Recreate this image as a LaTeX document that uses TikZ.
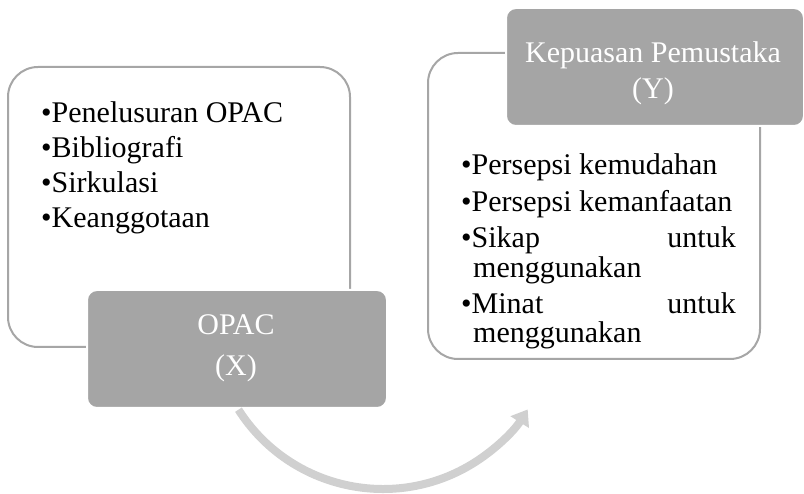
\documentclass[tikz,border=0pt]{standalone}
\usepackage{fontspec}
\setmainfont{Liberation Serif}
\usetikzlibrary{arrows.meta}
\definecolor{boxline}{HTML}{A6A6A6}
\definecolor{boxfill}{HTML}{A5A5A5}
\definecolor{arrowgray}{HTML}{D0D0D0}
\tikzset{
  whitebox/.style={draw=boxline, line width=2pt, fill=white, rounded corners=30pt, anchor=north west, inner sep=0pt},
  graybox/.style={draw=white, line width=2pt, fill=boxfill, rounded corners=10pt, anchor=north west, inner sep=0pt},
  txt/.style={font=\fontsize{30}{35}\selectfont, inner sep=0pt, text=black},
  wtxt/.style={font=\fontsize{30}{35}\selectfont, inner sep=0pt, text=white, anchor=base},
  flow/.style={draw=arrowgray, line width=8pt, -{Triangle[length=15pt,width=21pt]}}
}
\begin{document}
\begin{tikzpicture}[x=1pt,y=-1pt]
\useasboundingbox (0,0) rectangle (804,494);
% left group
\node[whitebox, minimum width=342pt, minimum height=280pt] (L) at (7,66) {};
\node[txt, anchor=base west] (l1) at (41,122.7) {•Penelusuran OPAC};
\node[txt, anchor=base west] (l2) at (41,158) {•Bibliografi};
\node[txt, anchor=base west] (l3) at (41,193) {•Sirkulasi};
\node[txt, anchor=base west] (l4) at (41,228) {•Keanggotaan};
\node[graybox, minimum width=300pt, minimum height=118pt] (X) at (86,289) {};
\node[wtxt] (x1) at (236,335) {OPAC};
\node[wtxt] (x2) at (236,376) {(X)};
% right group
\node[whitebox, minimum width=332pt, minimum height=306pt] (R) at (427,52) {};
\node[graybox, minimum width=298pt, minimum height=118pt] (Y) at (505,7) {};
\node[wtxt] (y1) at (653,63) {Kepuasan Pemustaka};
\node[wtxt] (y2) at (653,99) {(Y)};
\node[txt, anchor=base west] (r1) at (461,175) {•Persepsi kemudahan};
\node[txt, anchor=base west] (r2) at (461,211.5) {•Persepsi kemanfaatan};
\node[txt, anchor=base west] (r3) at (461,248) {•Sikap};
\node[txt, anchor=base east] (r3b) at (736,248) {untuk};
\node[txt, anchor=base west] (r4) at (473,278) {menggunakan};
\node[txt, anchor=base west] (r5) at (461,314) {•Minat};
\node[txt, anchor=base east] (r5b) at (736,314) {untuk};
\node[txt, anchor=base west] (r6) at (473,343) {menggunakan};
% arrow
\coordinate (c) at (383,317.6);
\path (c) ++(147.5:171.4) coordinate (s);
\draw[flow] (s) arc[start angle=147.5, end angle=32.4, radius=171.4];
\end{tikzpicture}
\end{document}
